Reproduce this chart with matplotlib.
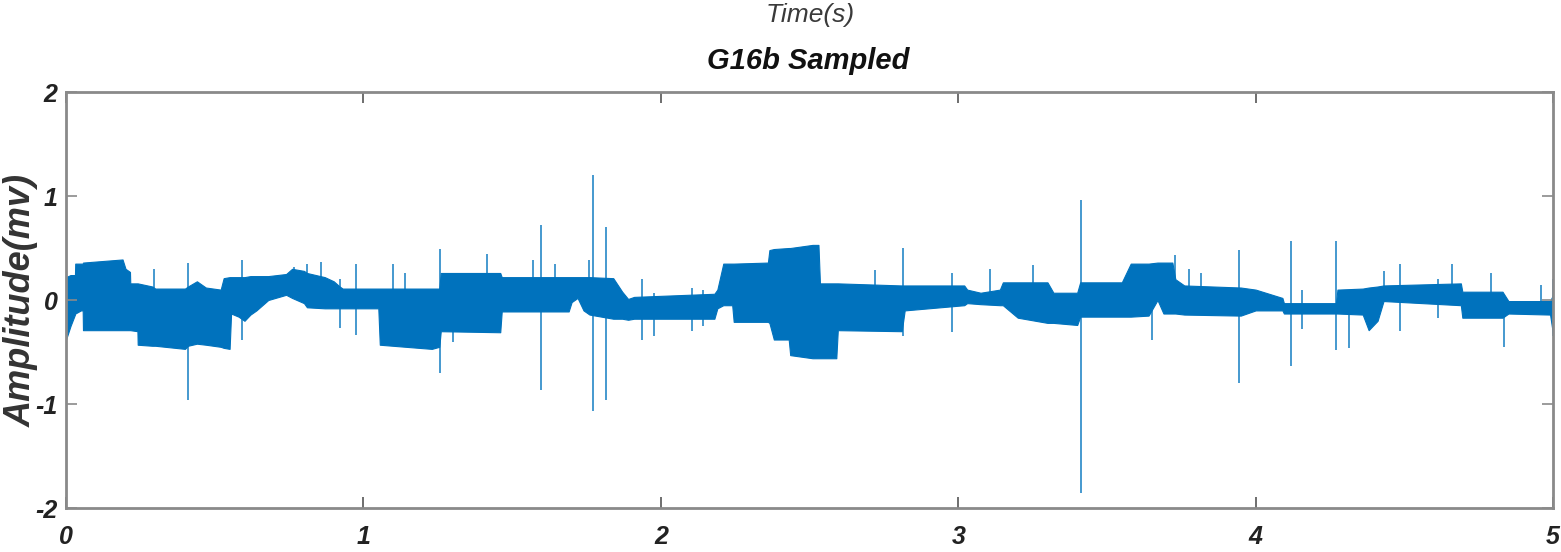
import matplotlib
matplotlib.use("Agg")
import matplotlib.pyplot as plt
import numpy as np

plt.rcParams["axes.unicode_minus"] = False

# envelope of the dense recording: time (s), upper and lower bound (mv)
env_t = [0.000, 0.015, 0.030, 0.031, 0.050, 0.056, 0.057, 0.190, 0.200, 0.215,
         0.216, 0.240, 0.241, 0.290, 0.300, 0.400, 0.410, 0.440, 0.470, 0.520,
         0.530, 0.550, 0.555, 0.580, 0.600, 0.620, 0.640, 0.680, 0.740, 0.760,
         0.800, 0.810, 0.870, 0.900, 0.920, 0.930, 1.050, 1.055, 1.230, 1.255,
         1.260, 1.460, 1.465, 1.690, 1.700, 1.720, 1.740, 1.760, 1.840, 1.870,
         1.890, 1.910, 2.180, 2.190, 2.210, 2.240, 2.245, 2.360, 2.365, 2.380,
         2.430, 2.435, 2.510, 2.530, 2.535, 2.590, 2.595, 2.810, 2.820, 3.020,
         3.030, 3.075, 3.140, 3.150, 3.200, 3.300, 3.320, 3.400, 3.410, 3.550,
         3.580, 3.640, 3.670, 3.690, 3.720, 3.730, 3.760, 3.950, 4.000, 4.090,
         4.095, 4.270, 4.275, 4.360, 4.380, 4.410, 4.430, 4.690, 4.695, 4.830,
         4.850, 4.990, 5.000]
env_hi = [0.22, 0.24, 0.24, 0.35, 0.35, 0.35, 0.36, 0.39, 0.30, 0.27,
          0.16, 0.16, 0.16, 0.13, 0.11, 0.11, 0.13, 0.18, 0.12, 0.10,
          0.21, 0.22, 0.22, 0.22, 0.22, 0.23, 0.23, 0.23, 0.25, 0.30,
          0.28, 0.26, 0.22, 0.18, 0.13, 0.11, 0.11, 0.11, 0.11, 0.11,
          0.26, 0.26, 0.22, 0.22, 0.22, 0.22, 0.22, 0.22, 0.21, 0.08,
          0.01, 0.03, 0.06, 0.10, 0.35, 0.35, 0.35, 0.36, 0.48, 0.49,
          0.50, 0.50, 0.53, 0.53, 0.16, 0.16, 0.16, 0.14, 0.14, 0.14,
          0.10, 0.07, 0.10, 0.17, 0.17, 0.17, 0.07, 0.07, 0.17, 0.17,
          0.35, 0.35, 0.36, 0.36, 0.36, 0.20, 0.14, 0.12, 0.10, 0.02,
          -0.03, -0.03, 0.10, 0.11, 0.12, 0.13, 0.14, 0.16, 0.08, 0.08,
          -0.01, -0.01, 0.05]
env_lo = [-0.38, -0.25, -0.14, -0.13, -0.10, -0.10, -0.29, -0.29, -0.29, -0.29,
          -0.29, -0.30, -0.43, -0.44, -0.44, -0.47, -0.44, -0.42, -0.43, -0.45,
          -0.46, -0.47, -0.13, -0.16, -0.20, -0.14, -0.10, 0.00, 0.05, 0.02,
          -0.03, -0.07, -0.08, -0.08, -0.08, -0.08, -0.08, -0.43, -0.47, -0.45,
          -0.30, -0.31, -0.11, -0.11, -0.02, 0.02, -0.10, -0.14, -0.18, -0.18,
          -0.19, -0.18, -0.18, -0.08, -0.05, -0.05, -0.21, -0.21, -0.22, -0.38,
          -0.38, -0.53, -0.56, -0.56, -0.56, -0.56, -0.29, -0.30, -0.10, -0.05,
          -0.03, -0.04, -0.05, -0.05, -0.17, -0.22, -0.22, -0.24, -0.16, -0.16,
          -0.16, -0.15, 0.00, -0.13, -0.13, -0.13, -0.14, -0.15, -0.10, -0.10,
          -0.13, -0.13, -0.13, -0.14, -0.29, -0.20, -0.01, -0.05, -0.17, -0.17,
          -0.13, -0.14, -0.33]

# isolated spikes: time (s), top and bottom (mv)
spike_t = [0.410, 0.592, 1.258, 1.598, 1.773, 1.814, 3.412, 3.944, 4.118, 4.270,
           4.313, 4.835, 0.922, 0.976, 1.935, 1.976, 2.106, 2.143, 2.815, 2.980,
           3.650, 4.155, 4.485, 4.613, 5.000, 1.300, 0.296, 0.765, 0.810, 0.858,
           1.100, 1.140, 1.416, 1.570, 1.645, 1.760, 2.720, 3.106, 3.250, 3.730,
           3.775, 3.815, 4.430, 4.660, 4.790, 4.960]
spike_hi = [0.36, 0.38, 0.49, 0.72, 1.20, 0.70, 0.96, 0.48, 0.57, 0.57,
            -0.05, 0.05, 0.20, 0.35, 0.20, 0.07, 0.12, 0.10, 0.50, 0.26,
            -0.10, 0.10, 0.35, 0.20, 0.20, 0.20, 0.30, 0.32, 0.35, 0.37,
            0.35, 0.26, 0.44, 0.38, 0.35, 0.38, 0.29, 0.30, 0.34, 0.43,
            0.30, 0.26, 0.28, 0.35, 0.26, 0.14]
spike_lo = [-0.96, -0.38, -0.70, -0.87, -1.07, -0.96, -1.86, -0.80, -0.63, -0.48,
            -0.46, -0.45, -0.27, -0.34, -0.38, -0.35, -0.30, -0.25, -0.35, -0.31,
            -0.38, -0.28, -0.30, -0.17, -0.35, -0.40, 0.10, 0.10, 0.10, 0.10,
            0.05, 0.05, 0.10, 0.10, 0.10, 0.10, 0.10, 0.05, 0.05, 0.10,
            0.05, 0.05, 0.05, 0.05, 0.05, -0.05]

x_ticks = [0, 1, 2, 3, 4, 5]
y_ticks = [-2, -1, 0, 1, 2]

blue = "#0072BD"
narrow = ["Liberation Sans Narrow", "Liberation Sans", "DejaVu Sans"]
wide = ["Liberation Sans", "DejaVu Sans"]

fig = plt.figure(figsize=(15.61, 5.52), dpi=100)
ax = fig.add_axes([0.0423, 0.0797, 0.9526, 0.7536])

# signal band plus the single-sample spikes
ax.fill_between(env_t, env_lo, env_hi, color=blue, linewidth=0.8, edgecolor=blue)
ax.vlines(spike_t, spike_lo, spike_hi, color=blue, linewidth=1.2, alpha=0.85)

ax.set_xlim(0, 5)
ax.set_ylim(-2, 2)
ax.set_xticks(x_ticks)
ax.set_yticks(y_ticks)

for s in ax.spines.values():
    s.set_color("#8a8a8a")
    s.set_linewidth(2)

ax.tick_params(axis="both", direction="in", length=8, width=1.2, color="#555555",
               top=True, right=True)
ax.tick_params(axis="x", pad=12)
ax.tick_params(axis="y", pad=6, color="#8a8a8a")
for lab in ax.get_xticklabels() + ax.get_yticklabels():
    lab.set_family(narrow)
    lab.set_fontsize(18)
    lab.set_fontweight("bold")
    lab.set_fontstyle("italic")
    lab.set_color("#222222")

ax.set_ylabel("Amplitude(mv)", family=wide, fontsize=26, fontweight="bold",
              fontstyle="italic", color="#333333")
ax.yaxis.set_label_coords(-0.0185, 0.5)

fig.text(0.519, 0.972, "Time(s)", ha="center", va="center", family=narrow,
         fontsize=19, fontstyle="italic", color="#3a3a3a")
fig.text(0.518, 0.89, "G16b Sampled", ha="center", va="center", family=narrow,
         fontsize=21, fontweight="bold", fontstyle="italic", color="#111111")

fig.savefig("out.png", dpi=100)
